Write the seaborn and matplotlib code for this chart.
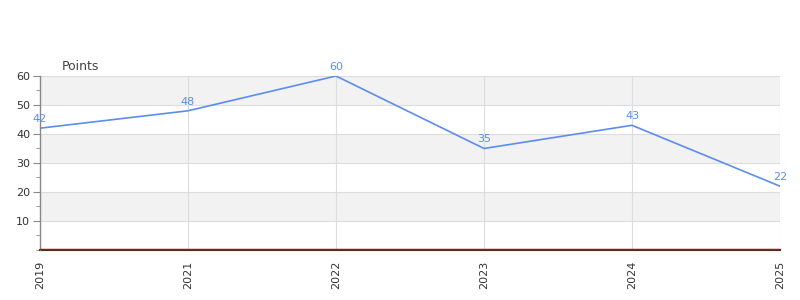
import matplotlib
matplotlib.use("Agg")
import matplotlib.pyplot as plt
import seaborn as sns
import pandas as pd
from matplotlib.ticker import MultipleLocator

years = ["2019", "2021", "2022", "2023", "2024", "2025"]
points = [42, 48, 60, 35, 43, 22]

df = pd.DataFrame({"year": years, "points": points})

sns.set_style("white")
plt.rcParams['font.family'] = ['DejaVu Sans']

fig = plt.figure(figsize=(8, 3), dpi=100)
ax = fig.add_axes([0.05, 0.1667, 0.925, 0.58])

line_color = "#5b8def"
sns.lineplot(data=df, x="year", y="points", ax=ax, color=line_color, linewidth=1.2, sort=False)

ax.set_xlim(0, len(years) - 1)
ax.set_ylim(0, 60)

# alternating bands
for lo in [10, 30, 50]:
    ax.axhspan(lo, lo + 10, color="#f2f2f2", zorder=0, lw=0)

ax.yaxis.set_major_locator(MultipleLocator(10))
ax.yaxis.set_minor_locator(MultipleLocator(5))
ax.set_yticks([10, 20, 30, 40, 50, 60])
ax.grid(True, axis="both", which="major", color="#dddddd", linewidth=0.8, zorder=0)
ax.set_axisbelow(True)

for i, v in enumerate(points):
    ax.annotate(str(v), (i, v), textcoords="offset points", xytext=(0, 3),
                ha="center", va="bottom", fontsize=8, color=line_color)

for s in ["top", "right"]:
    ax.spines[s].set_visible(False)
ax.spines["left"].set_color("#888888")
ax.spines["left"].set_linewidth(1.0)
ax.spines["bottom"].set_color("#333333")
ax.spines["bottom"].set_linewidth(1.5)
ax.spines["bottom"].set_zorder(2)

ax.axhline(0.25, color="#cc0000", linewidth=1.0, zorder=6, clip_on=False)

ax.tick_params(axis="y", which="major", left=True, length=5, color="#888888", labelsize=8, labelcolor="#333333", pad=2)
ax.tick_params(axis="y", which="minor", left=True, length=3, color="#888888")
ax.tick_params(axis="x", bottom=False, labelsize=8, labelcolor="#333333", rotation=90, pad=4)

ax.set_xlabel("")
ax.set_ylabel("")
ax.text(0.03, 1.02, "Points", transform=ax.transAxes, fontsize=9, color="#444444", ha="left", va="bottom")

fig.savefig("out.png", dpi=100)
